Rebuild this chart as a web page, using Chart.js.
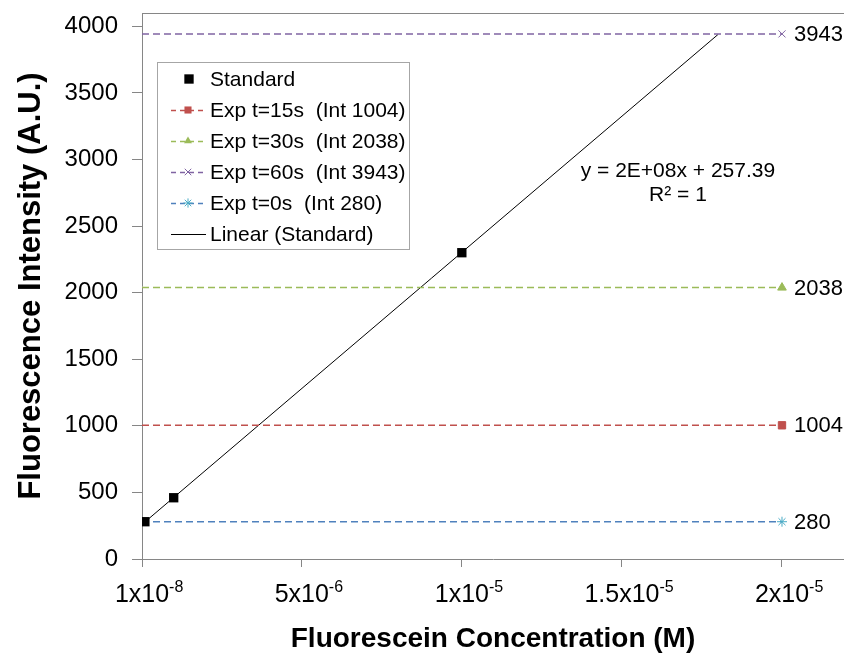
<!DOCTYPE html>
<html>
<head>
<meta charset="utf-8">
<script src="https://cdn.jsdelivr.net/npm/chart.js@4.4.1/dist/chart.umd.min.js"></script>
<style>
  html, body { margin: 0; padding: 0; background: #fff; overflow: hidden; }
  #wrap { width: 844px; height: 655px; position: relative; }
</style>
</head>
<body>
<div id="wrap"><canvas id="c" width="844" height="655"></canvas></div>
<script>
const FONT = '"Liberation Sans", Arial, Helvetica, sans-serif';

// Fluorescein standard curve
const standardConc = [1e-7, 1e-6, 1e-5];
const standardIntensity = [280, 460, 2300];

// Experimental readings (drawn as horizontal reference lines)
const expTimes = [15, 30, 60, 0];
const expIntensity = [1004, 2038, 3943, 280];
const expLineColors = ['#C0504D', '#9BBB59', '#8064A2', '#4F81BD'];
const expMarkerColors = ['#C0504D', '#9BBB59', '#8064A2', '#4BACC6'];
const expMarkers = ['rect', 'triangle', 'crossRot', 'star'];

// Linear fit of the standard
const trendSlope = 2.045e8;
const trendIntercept = 257.39;
const trendRSquared = 1;
const trendRange = [1e-7, 1.8e-5];

// Axes
const xMin = 1e-8;
const xMax = 2.1937e-5;
const xTickValues = [1e-8, 5e-6, 1e-5, 1.5e-5, 2e-5];
const yMin = 0;
const yMax = 4100;
const yTickValues = [0, 500, 1000, 1500, 2000, 2500, 3000, 3500, 4000];
const xTitle = 'Fluorescein Concentration (M)';
const yTitle = 'Fluorescence Intensity (A.U.)';

const AXIS_GRAY = '#868686';

function excelSci(v) {
  const [m, e] = v.toExponential(0).split('e');
  const n = parseInt(e, 10);
  return m + 'E' + (n < 0 ? '-' : '+') + String(Math.abs(n)).padStart(2, '0');
}

function splitPow10(v) {
  const [m, e] = v.toExponential(1).split('e');
  const mant = parseFloat(m).toString();
  return { main: mant + 'x10', sup: String(parseInt(e, 10)) };
}

function drawMarker(ctx, style, x, y, r, color) {
  ctx.save();
  ctx.fillStyle = color;
  ctx.strokeStyle = color;
  ctx.lineWidth = 1;
  ctx.setLineDash([]);
  if (style === 'rect') {
    const s = r * Math.SQRT1_2;
    ctx.fillRect(x - s, y - s, 2 * s, 2 * s);
  } else if (style === 'triangle') {
    ctx.beginPath();
    for (let i = 0; i < 3; i++) {
      const a = i * 2 * Math.PI / 3;
      const px = x + Math.sin(a) * r, py = y - Math.cos(a) * r;
      if (i === 0) ctx.moveTo(px, py); else ctx.lineTo(px, py);
    }
    ctx.closePath();
    ctx.fill();
  } else if (style === 'crossRot' || style === 'star') {
    const d = r * Math.SQRT1_2;
    ctx.beginPath();
    ctx.moveTo(x - d, y - d); ctx.lineTo(x + d, y + d);
    ctx.moveTo(x - d, y + d); ctx.lineTo(x + d, y - d);
    if (style === 'star') {
      ctx.moveTo(x, y - r); ctx.lineTo(x, y + r);
      ctx.moveTo(x - r, y); ctx.lineTo(x + r, y);
    }
    ctx.stroke();
  }
  ctx.restore();
}

const datasets = [];
datasets.push({
  label: 'Standard',
  data: standardConc.map((x, i) => ({ x, y: standardIntensity[i] })),
  showLine: false,
  pointStyle: 'rect',
  pointRadius: 6.6,
  backgroundColor: '#000',
  borderColor: '#000',
  pointBorderWidth: 0,
  legendMarker: 'rect', legendMarkerColor: '#000', legendMarkerRadius: 6.6, legendLine: null
});
expTimes.forEach((t, i) => {
  datasets.push({
    label: 'Exp t=' + t + 's  (Int ' + expIntensity[i] + ')',
    data: [{ x: xMin, y: expIntensity[i] }, { x: xTickValues[xTickValues.length - 1], y: expIntensity[i] }],
    showLine: true,
    borderColor: expLineColors[i],
    borderWidth: 1.5,
    borderDash: [7, 4],
    pointStyle: expMarkers[i],
    pointRadius: [0, expMarkers[i] === 'rect' ? 5.2 : 5],
    pointBackgroundColor: expMarkerColors[i],
    pointBorderColor: expMarkerColors[i],
    pointBorderWidth: 1,
    valueLabel: true,
    legendMarker: expMarkers[i], legendMarkerColor: expMarkerColors[i],
    legendMarkerRadius: expMarkers[i] === 'rect' ? 5 : 4.6, legendLine: 'dash'
  });
});
datasets.push({
  label: 'Linear (Standard)',
  data: trendRange.map(x => ({ x, y: trendSlope * x + trendIntercept })),
  showLine: true,
  borderColor: '#000',
  borderWidth: 1,
  pointRadius: 0,
  legendMarker: null, legendLine: 'solid'
});

const decor = {
  id: 'decor',
  afterDatasetsDraw(chart) {
    const ctx = chart.ctx;
    const area = chart.chartArea;
    const xs = chart.scales.x, ys = chart.scales.y;

    // top frame line of the plot area
    ctx.save();
    ctx.strokeStyle = AXIS_GRAY;
    ctx.lineWidth = 1;
    ctx.beginPath();
    ctx.moveTo(area.left, area.top + 0.5);
    ctx.lineTo(area.right, area.top + 0.5);
    ctx.stroke();
    ctx.restore();

    // value labels at the end of each experimental line
    ctx.save();
    ctx.fillStyle = '#000';
    ctx.font = '22px ' + FONT;
    ctx.textAlign = 'left';
    ctx.textBaseline = 'middle';
    chart.data.datasets.forEach((ds, di) => {
      if (!ds.valueLabel) return;
      const meta = chart.getDatasetMeta(di);
      const last = meta.data[meta.data.length - 1];
      const v = ds.data[ds.data.length - 1].y;
      ctx.fillText(String(v), last.x + 12, last.y + 1);
    });
    ctx.restore();

    // trendline equation
    ctx.save();
    ctx.fillStyle = '#000';
    ctx.font = '21px ' + FONT;
    ctx.textAlign = 'center';
    ctx.textBaseline = 'alphabetic';
    const eqX = xs.getPixelForValue(1.675e-5);
    const eqY = ys.getPixelForValue(2865);
    ctx.fillText('y = ' + excelSci(trendSlope) + 'x + ' + trendIntercept.toFixed(2), eqX, eqY);
    ctx.fillText('R\u00B2 = ' + trendRSquared, eqX, eqY + 24);
    ctx.restore();

    // legend
    ctx.save();
    const lx = 157, ly = 62, lw = 252, lh = 187, rowH = 31;
    ctx.fillStyle = '#fff';
    ctx.fillRect(lx, ly, lw, lh);
    ctx.strokeStyle = '#A6A6A6';
    ctx.lineWidth = 1;
    ctx.strokeRect(lx + 0.5, ly + 0.5, lw, lh);
    ctx.font = '21px ' + FONT;
    ctx.textBaseline = 'middle';
    ctx.textAlign = 'left';
    chart.data.datasets.forEach((ds, i) => {
      const cy = ly + 17 + i * rowH;
      if (ds.legendLine === 'dash') {
        ctx.save();
        ctx.strokeStyle = ds.borderColor;
        ctx.lineWidth = 1.5;
        ctx.setLineDash([5, 4]);
        ctx.beginPath();
        ctx.moveTo(171, cy + 0.5);
        ctx.lineTo(205, cy + 0.5);
        ctx.stroke();
        ctx.restore();
      } else if (ds.legendLine === 'solid') {
        ctx.save();
        ctx.strokeStyle = ds.borderColor;
        ctx.lineWidth = 1;
        ctx.beginPath();
        ctx.moveTo(171, cy + 0.5);
        ctx.lineTo(206, cy + 0.5);
        ctx.stroke();
        ctx.restore();
      }
      if (ds.legendMarker) {
        const mx = ds.legendLine ? 188 : 189;
        drawMarker(ctx, ds.legendMarker, mx, cy, ds.legendMarkerRadius, ds.legendMarkerColor);
      }
      ctx.fillStyle = '#000';
      ctx.fillText(ds.label, 210, cy + 1);
    });
    ctx.restore();

    // x tick labels with superscript exponents
    ctx.save();
    ctx.fillStyle = '#000';
    ctx.textBaseline = 'alphabetic';
    xs.ticks.forEach(t => {
      const p = xs.getPixelForValue(t.value);
      const lab = splitPow10(t.value);
      ctx.font = '25px ' + FONT;
      const mw = ctx.measureText(lab.main).width;
      ctx.textAlign = 'left';
      ctx.fillText(lab.main, p - mw / 2, 602);
      ctx.font = '16px ' + FONT;
      ctx.fillText(lab.sup, p + mw / 2, 592);
    });
    ctx.restore();

    // axis titles
    ctx.save();
    ctx.fillStyle = '#000';
    ctx.font = 'bold 28px ' + FONT;
    ctx.textAlign = 'center';
    ctx.textBaseline = 'alphabetic';
    ctx.fillText(xTitle, (area.left + area.right) / 2, 647);
    ctx.translate(40, (area.top + area.bottom) / 2);
    ctx.rotate(-Math.PI / 2);
    ctx.font = 'bold 31px ' + FONT;
    ctx.fillText(yTitle, 0, 0);
    ctx.restore();
  }
};

new Chart(document.getElementById('c'), {
  type: 'scatter',
  data: { datasets },
  options: {
    responsive: false,
    animation: false,
    devicePixelRatio: 1,
    layout: { autoPadding: false, padding: { top: 13, left: 0, right: 0, bottom: 0 } },
    plugins: { legend: { display: false }, tooltip: { enabled: false } },
    scales: {
      x: {
        type: 'linear',
        min: xMin,
        max: xMax,
        afterBuildTicks: s => { s.ticks = xTickValues.map(v => ({ value: v })); },
        afterFit: s => { s.height = 96; s.paddingLeft = 0; s.paddingRight = 0; },
        grid: { drawOnChartArea: false, drawTicks: true, tickLength: 8, color: AXIS_GRAY, lineWidth: 1 },
        border: { color: AXIS_GRAY, width: 1 },
        ticks: { color: 'rgba(0,0,0,0)', font: { size: 8 }, maxRotation: 0 }
      },
      y: {
        type: 'linear',
        min: yMin,
        max: yMax,
        afterBuildTicks: s => { s.ticks = yTickValues.map(v => ({ value: v })); },
        afterFit: s => { s.width = 142; s.paddingTop = 0; s.paddingBottom = 0; },
        grid: { drawOnChartArea: false, drawTicks: true, tickLength: 10, color: AXIS_GRAY, lineWidth: 1 },
        border: { color: AXIS_GRAY, width: 1 },
        ticks: { color: '#000', font: { family: FONT, size: 24 }, padding: 14, callback: v => String(v) }
      }
    }
  },
  plugins: [decor]
});
</script>
</body>
</html>
